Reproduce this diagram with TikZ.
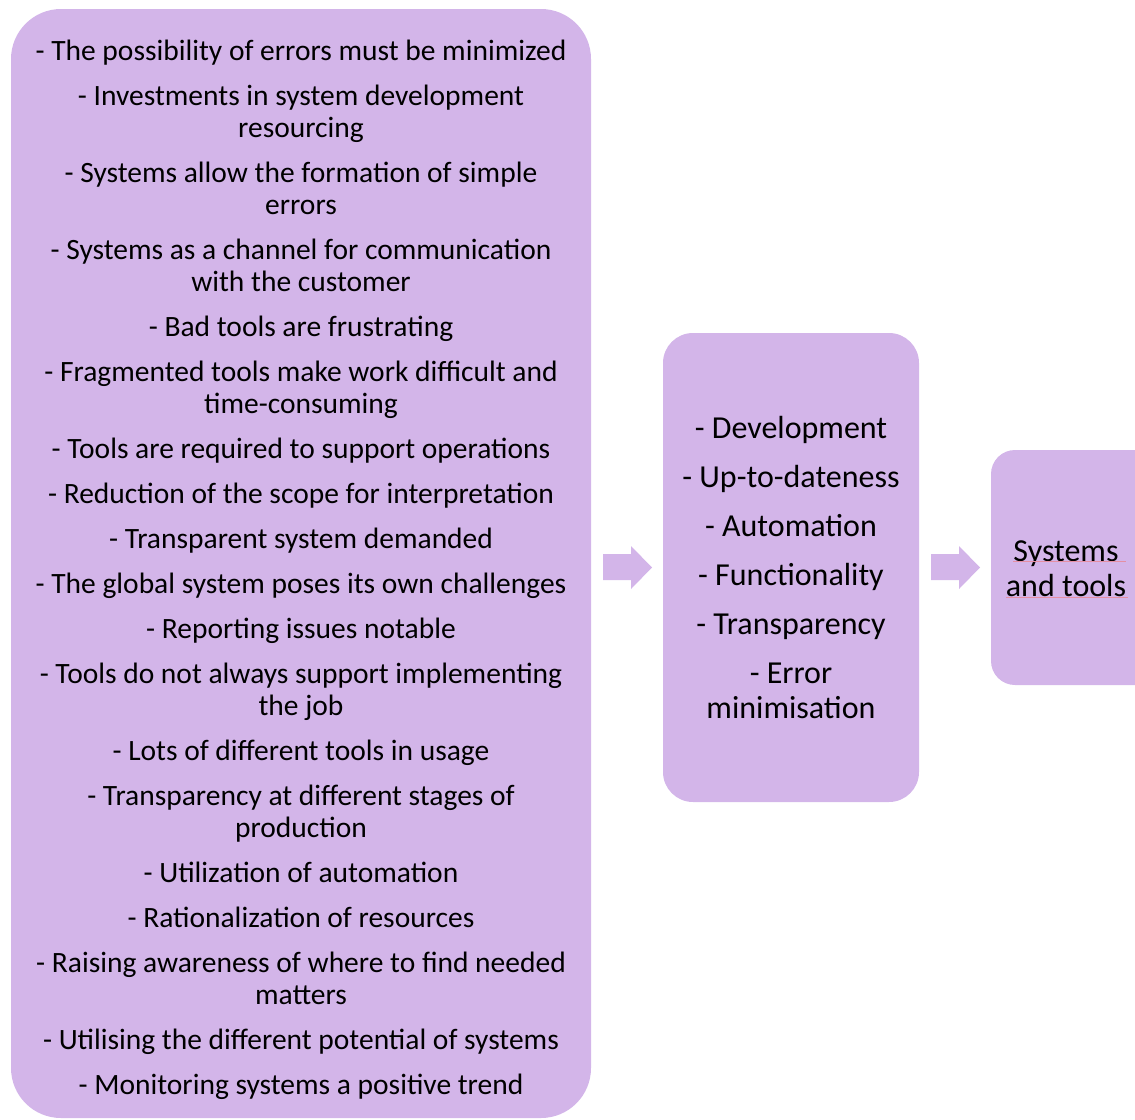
\documentclass[tikz,border=0pt]{standalone}
\usepackage{fontspec}
\setmainfont{Carlito}
\definecolor{boxpurple}{HTML}{D3B5E9}
\definecolor{spellpink}{HTML}{E58FA3}
\tikzset{
  box/.style={fill=boxpurple, draw=none},
  leftlist/.style={align=center, anchor=base, inner sep=0pt, font=\fontsize{29.5}{32}\selectfont},
  midlist/.style={align=center, anchor=base, inner sep=0pt, font=\fontsize{32}{35}\selectfont},
  blockarrow/.style={fill=boxpurple, draw=none},
  squiggle/.style={draw=spellpink, line width=1pt}
}
\begin{document}
\begin{tikzpicture}[x=1pt,y=-1pt]
\useasboundingbox (0,0) rectangle (1135,1119);
\begin{scope}
\clip (0,0) rectangle (1135,1119);
\fill[box, rounded corners=50pt] (11,9) rectangle (591,1118);
\fill[box, rounded corners=30pt] (663,333) rectangle (919,802);
\fill[box, rounded corners=24pt] (991,450) rectangle (1160,685);
\end{scope}
\node[leftlist] (causes) at (301,1094) {%
- The possibility of errors must be minimized\\[13pt]
- Investments in system development\\resourcing\\[13pt]
- Systems allow the formation of simple\\errors\\[13pt]
- Systems as a channel for communication\\with the customer\\[13pt]
- Bad tools are frustrating\\[13pt]
- Fragmented tools make work difficult and\\time-consuming\\[13pt]
- Tools are required to support operations\\[13pt]
- Reduction of the scope for interpretation\\[13pt]
- Transparent system demanded\\[13pt]
- The global system poses its own challenges\\[13pt]
- Reporting issues notable\\[13pt]
- Tools do not always support implementing\\the job\\[13pt]
- Lots of different tools in usage\\[13pt]
- Transparency at different stages of\\production\\[13pt]
- Utilization of automation\\[13pt]
- Rationalization of resources\\[13pt]
- Raising awareness of where to find needed\\matters\\[13pt]
- Utilising the different potential of systems\\[13pt]
- Monitoring systems a positive trend};
\node[midlist] (themes) at (791,718) {%
- Development\\[14pt]
- Up-to-dateness\\[14pt]
- Automation\\[14pt]
- Functionality\\[14pt]
- Transparency\\[14pt]
- Error\\minimisation};
\node[midlist] (result) at (1066,596) {Systems\\and tools};
\path[squiggle] (1013,561) -- (1126,561);
\path[squiggle] (1006,597) -- (1128,597);
\fill[blockarrow] (603,554) -- (631,554) -- (631,546) -- (652,567.5) -- (631,589) -- (631,580) -- (603,580) -- cycle;
\fill[blockarrow] (931,554) -- (959,554) -- (959,546) -- (980,567.5) -- (959,589) -- (959,580) -- (931,580) -- cycle;
\end{tikzpicture}
\end{document}
